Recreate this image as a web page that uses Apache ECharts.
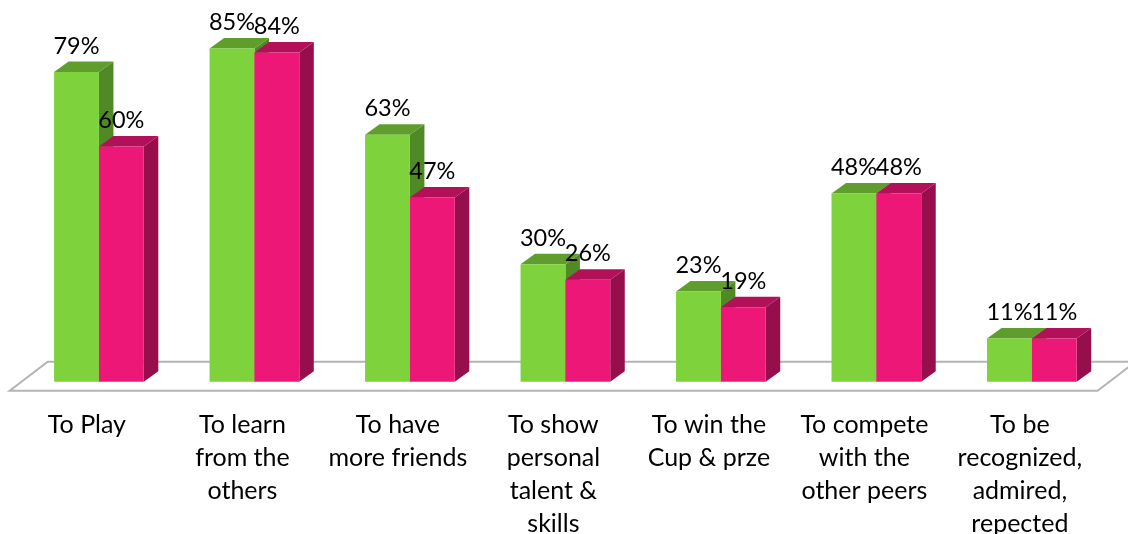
<!DOCTYPE html>
<html><head><meta charset="utf-8">
<style>html,body{margin:0;padding:0;background:#fff}#c{width:1128px;height:534px}</style>
<script src="https://cdn.jsdelivr.net/npm/echarts@6/dist/echarts.min.js"></script>
</head><body><div id="c"></div>
<script>
const categories = ['To Play','To learn\nfrom the\nothers','To have\nmore friends','To show\npersonal\ntalent &\nskills','To win the\nCup & prze','To compete\nwith the\nother peers','To be\nrecognized,\nadmired,\nrepected'];
const greenValues = [79,85,63,30,23,48,11];
const pinkValues = [60,84,47,26,19,48,11];
const FONT = 'Lato, "Open Sans", sans-serif';
const DX = 14.5, DY = 10.5;

function barRenderer(dir, front, top, side) {
  return function (params, api) {
    const i = api.value(0), v = api.value(1);
    const band = api.size([1, 0])[0];
    const w = band * 0.2885;
    const c = api.coord([i, 0]);
    const t = api.coord([i, v]);
    const x0 = dir < 0 ? c[0] - w : c[0];
    const x1 = x0 + w, yB = c[1], yT = t[1];
    return {
      type: 'group',
      children: [
        {type:'polygon', shape:{points:[[x1,yB],[x1+DX,yB-DY],[x1+DX,yT-DY],[x1,yT]]}, style:{fill:side}},
        {type:'polygon', shape:{points:[[x0,yT],[x0+DX,yT-DY],[x1+DX,yT-DY],[x1,yT]]}, style:{fill:top}},
        {type:'rect', shape:{x:x0,y:yT,width:w,height:yB-yT}, style:{fill:front}},
        {type:'text', z2:100, style:{text:v+'%', x:(x0+x1)/2, y:yT-26, align:'center', verticalAlign:'middle', font:'23.5px '+FONT, fill:'#000'}}
      ]
    };
  };
}
function floorRenderer(params, api) {
  const cs = params.coordSys;
  const yF = cs.y + cs.height + 9, yBk = cs.y + cs.height - 20;
  const xL = cs.x - 11.5, xR = cs.x + cs.width - 12;
  return {type:'polygon', silent:true,
    shape:{points:[[xL,yF],[xL+38,yBk],[xR+38,yBk],[xR,yF]]},
    style:{fill:'#fff', stroke:'#b4b4b4', lineWidth:2}};
}
const chart = echarts.init(document.getElementById('c'), null, {renderer:'canvas'});
chart.setOption({
  animation:false,
  backgroundColor:'#fff',
  grid:{left:21.2,right:18.4,top:29,bottom:152.3,outerBoundsMode:'none'},
  xAxis:{type:'category',data:categories,axisLine:{show:false},axisTick:{show:false},
    axisLabel:{interval:0,margin:27,fontFamily:FONT,fontSize:25,color:'#000',lineHeight:33,align:'center',verticalAlign:'top',padding:[0,24,0,0],hideOverlap:false}},
  yAxis:{type:'value',min:0,max:90,show:false,splitLine:{show:false}},
  series:[
    {type:'custom',coordinateSystem:'cartesian2d',renderItem:floorRenderer,data:[[0,0]],z:1,silent:true,clip:false},
    {type:'custom',coordinateSystem:'cartesian2d',z:2,renderItem:barRenderer(-1,'#7ED33D','#5F9E2D','#4F8A27'),data:greenValues.map((v,i)=>[i,v])},
    {type:'custom',coordinateSystem:'cartesian2d',z:3,renderItem:barRenderer(1,'#ED1778','#B2115A','#970E4D'),data:pinkValues.map((v,i)=>[i,v])}
  ]
});
</script></body></html>
